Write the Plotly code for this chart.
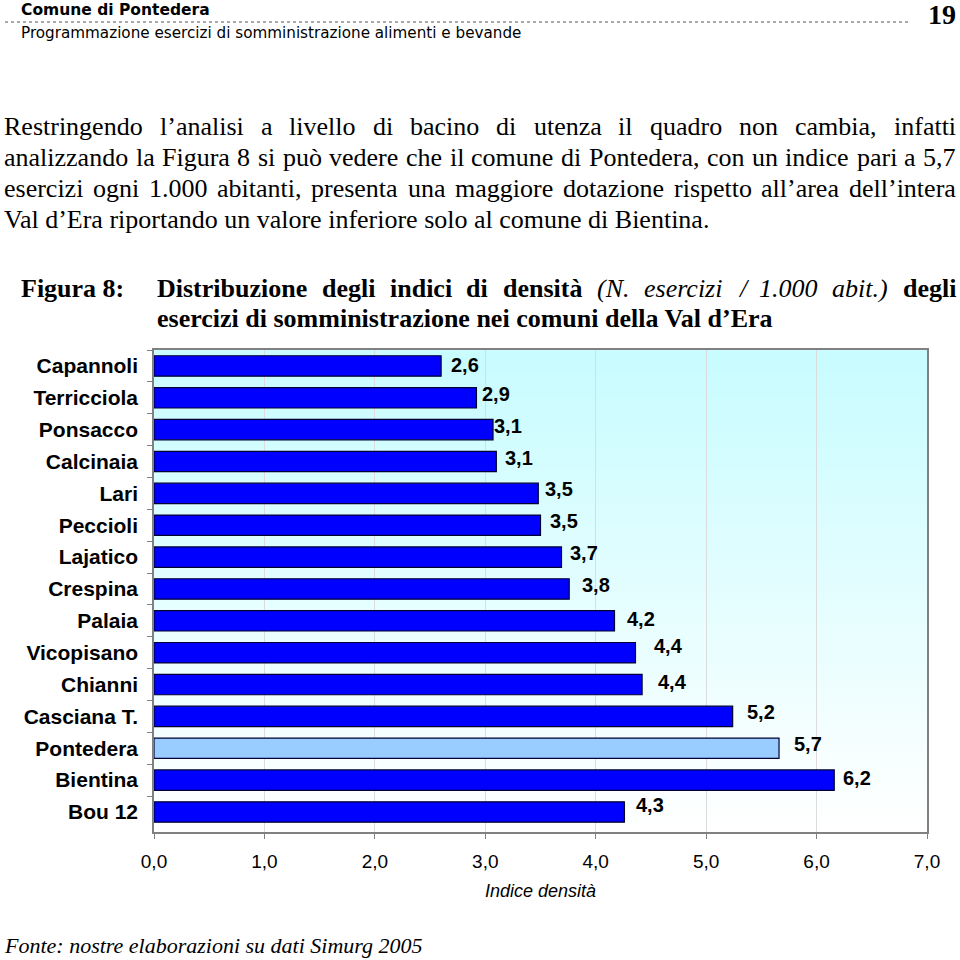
import plotly.graph_objects as go

# ---------------- data ----------------
categories = ["Capannoli", "Terricciola", "Ponsacco", "Calcinaia", "Lari", "Peccioli",
              "Lajatico", "Crespina", "Palaia", "Vicopisano", "Chianni", "Casciana T.",
              "Pontedera", "Bientina", "Bou 12"]
values = [2.60, 2.92, 3.07, 3.10, 3.48, 3.50, 3.69, 3.76, 4.17, 4.36, 4.42, 5.24, 5.66, 6.16, 4.26]
highlight = "Pontedera"
x_ticks = [0, 1, 2, 3, 4, 5, 6, 7]

# label placement offsets (px) relative to bar end / bar centre
label_dx = [10, 6, 1, 9, 7, 9, 9, 13, 13, 19, 16, 14, 15, 9, 12]
label_dy = [-1, -4, -4, -4, -4, -4, -4, -4, -2, -7, -3, -4, -4, -2, -7]

# ---------------- page geometry ----------------
W, H = 960, 960
PL, PR, PT, PB = 154, 927, 350, 832
PW, PH = PR - PL, PB - PT


def px(x):
    return (x - PL) / PW


def py(y):
    return (PB - y) / PH


# ---------------- Times metrics for justified text ----------------
LOW = "abcdefghijklmnopqrstuvwxyz"
UP = "ABCDEFGHIJKLMNOPQRSTUVWXYZ"


def build_table(lower, upper, colon):
    t = {}
    for ch, w in zip(LOW, lower):
        t[ch] = w
    for ch, w in zip(UP, upper):
        t[ch] = w
    t.update({" ": 250, ",": 250, ".": 250, "\u2019": 333, "(": 333, ")": 333, "/": 278, ":": colon})
    for d in "0123456789":
        t[d] = 500
    t.update({"à": t["a"], "ò": t["o"], "è": t["e"], "ù": t["u"]})
    return t


TAB = {
    "reg": build_table([444, 500, 444, 500, 444, 333, 500, 500, 278, 278, 500, 278, 778, 500, 500, 500, 500, 333, 389, 278, 500, 500, 722, 500, 500, 444],
                       [722, 667, 667, 722, 611, 556, 722, 722, 333, 389, 722, 611, 889, 722, 722, 556, 722, 667, 556, 611, 722, 722, 944, 722, 722, 611], 278),
    "bold": build_table([500, 556, 444, 556, 444, 333, 500, 556, 278, 333, 556, 278, 833, 556, 500, 556, 556, 444, 389, 333, 556, 500, 722, 500, 500, 444],
                        [722, 667, 722, 722, 667, 611, 778, 778, 389, 500, 778, 667, 944, 722, 778, 611, 778, 722, 556, 667, 722, 722, 1000, 722, 722, 667], 333),
    "ital": build_table([500, 500, 444, 500, 444, 278, 500, 500, 278, 278, 444, 278, 722, 500, 500, 500, 500, 389, 389, 278, 500, 444, 667, 444, 444, 389],
                        [611, 611, 667, 722, 611, 611, 722, 722, 333, 444, 667, 556, 833, 667, 722, 611, 722, 611, 500, 556, 722, 611, 833, 611, 556, 556], 333),
}


def tw(s, style, size):
    return sum(TAB[style].get(c, 500) for c in s) / 1000.0 * size


annotations = []
SERIF = "Liberation Serif, Times New Roman, serif"


def text_ann(text, x, y, size, family=SERIF, style="reg", color="black", xanchor="left"):
    font = dict(family=family, size=size, color=color)
    if style == "bold":
        font["weight"] = "bold"
    elif style == "ital":
        font["style"] = "italic"
    annotations.append(dict(text=text, x=px(x), y=py(y), xref="paper", yref="paper",
                            xanchor=xanchor, yanchor="middle", showarrow=False,
                            borderpad=0, borderwidth=0, font=font))


def line(words, x0, x1, yc, size, justify=True):
    widths = [tw(w, s, size) for w, s in words]
    if justify and len(words) > 1:
        gap = (x1 - x0 - sum(widths)) / (len(words) - 1)
    else:
        gap = 0.25 * size
    x = x0
    for (w, s), wd in zip(words, widths):
        text_ann(w, x, yc, size, style=s)
        x += wd + gap


def words_of(s, style="reg"):
    return [(w, style) for w in s.split(" ")]


BODY = 26
body_lines = [
    "Restringendo l\u2019analisi a livello di bacino di utenza il quadro non cambia, infatti",
    "analizzando la Figura 8 si può vedere che il comune di Pontedera, con un indice pari a 5,7",
    "esercizi ogni 1.000 abitanti, presenta una maggiore dotazione rispetto all\u2019area dell\u2019intera",
]
body_y = [126, 157, 188]
for s, y in zip(body_lines, body_y):
    line(words_of(s), 4, 956, y, BODY)
text_ann("Val d\u2019Era riportando un valore inferiore solo al comune di Bientina.", 4, 219, BODY)

# caption
text_ann("Figura 8:", 21, 288, BODY, style="bold")
cap1 = (words_of("Distribuzione degli indici di densità", "bold")
        + words_of("(N. esercizi / 1.000 abit.)", "ital")
        + [("degli", "bold")])
line(cap1, 157, 956, 288, BODY)
text_ann("esercizi di somministrazione nei comuni della Val d\u2019Era", 157, 318, BODY, style="bold")

# header
text_ann("Comune di Pontedera", 21, 10, 15.5, family="DejaVu Sans, Verdana, sans-serif", style="bold")
text_ann("Programmazione esercizi di somministrazione alimenti e bevande", 21, 33, 15.2,
         family="DejaVu Sans, Verdana, sans-serif")
text_ann("19", 956, 14, 28, style="bold", xanchor="right")

# footnote
text_ann("Fonte: nostre elaborazioni su dati Simurg 2005", 4, 945, 22, style="ital")

# ---------------- chart ----------------
colors = ["#99CCFF" if c == highlight else "#0000FF" for c in categories]
labels = [f"{v:.1f}".replace(".", ",") for v in values]

fig = go.Figure(go.Bar(
    x=values, y=categories, orientation="h",
    marker=dict(color=colors, line=dict(color="#000033", width=1.2)),
    hoverinfo="skip",
))

for c, v, t, dx, dy in zip(categories, values, labels, label_dx, label_dy):
    annotations.append(dict(text=t, x=v, y=c, xref="x", yref="y", xanchor="left", yanchor="middle",
                            showarrow=False, xshift=dx - 2, yshift=-dy,
                            font=dict(family="Liberation Sans, Arial, sans-serif", size=20,
                                      color="black", weight="bold")))

# gradient background of the plot area
shapes = []
N = 60
top = (200, 252, 255)
for i in range(N):
    f = i / (N - 1)
    r = int(round(255 + (top[0] - 255) * f))
    g = int(round(255 + (top[1] - 255) * f))
    b = int(round(255 + (top[2] - 255) * f))
    shapes.append(dict(type="rect", xref="paper", yref="paper", x0=0, x1=1,
                       y0=i / N, y1=(i + 1) / N + 0.002, line=dict(width=0),
                       fillcolor=f"rgb({r},{g},{b})", layer="below"))
# dotted header rule
shapes.append(dict(type="line", xref="paper", yref="paper", x0=px(5), x1=px(908),
                   y0=py(22), y1=py(22), line=dict(color="#555555", width=1, dash="dot")))

fig.update_layout(
    width=W, height=H,
    margin=dict(l=PL, r=W - PR, t=PT, b=H - PB, pad=0),
    paper_bgcolor="white", plot_bgcolor="white",
    separators=",.",
    bargap=0.36,
    showlegend=False,
    annotations=annotations,
    shapes=shapes,
    xaxis=dict(range=[0, 7], tickvals=x_ticks, tickformat=".1f",
               ticks="outside", ticklen=5, tickcolor="#808080",
               showgrid=True, gridcolor="#DCDCDC", gridwidth=1,
               showline=True, linecolor="#808080", linewidth=1.5, mirror=True,
               zeroline=False, ticklabelstandoff=6,
               tickfont=dict(family="Liberation Sans, Arial, sans-serif",
                             size=19, color="black"),
               title=dict(text="Indice densità", standoff=14,
                          font=dict(family="Liberation Sans, Arial, sans-serif",
                                    size=18, color="black", style="italic"))),
    yaxis=dict(type="category", categoryorder="array", categoryarray=categories,
               autorange="reversed", ticks="outside", tickson="boundaries", ticklen=5,
               tickcolor="#808080", showline=True, linecolor="#808080", linewidth=1.5,
               mirror=True, showgrid=False, ticklabelstandoff=10,
               tickfont=dict(family="Liberation Sans, Arial, sans-serif", size=21,
                             color="black", weight="bold")),
)

fig.write_html("out.html")
